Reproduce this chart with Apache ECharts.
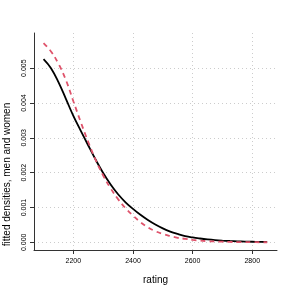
<!DOCTYPE html>
<html><head><meta charset="utf-8">
<script src="https://cdn.jsdelivr.net/npm/echarts@6/dist/echarts.min.js"></script>
<style>html,body{margin:0;padding:0;background:#fff}#c{width:294px;height:294px}</style>
</head><body><div id="c"></div>
<script>
const ratings = [2100,2125,2150,2175,2200,2225,2250,2275,2300,2325,2350,2375,2400,2425,2450,2475,2500,2525,2550,2575,2600,2625,2650,2675,2700,2725,2750,2775,2800,2825,2850];
const men = [0.00526,0.00500,0.00460,0.00412,0.00363,0.00320,0.00278,0.00237,0.00199,0.00166,0.00138,0.00115,0.00096,0.00079,0.00064,0.00051,0.00040,0.00031,0.00024,0.00018,0.00014,0.00011,0.000085,0.000065,0.00005,0.000038,0.000029,0.000022,0.000017,0.000013,0.00001];
const women = [0.00572,0.00548,0.00513,0.00466,0.00405,0.00345,0.00288,0.00236,0.00192,0.00155,0.00124,0.00098,0.00077,0.00058,0.00043,0.00032,0.00024,0.00018,0.00013,0.00010,0.00007,0.00005,0.000035,0.000025,0.000018,0.000012,0.000008,0.000005,0.000004,0.000003,0.000002];
const xTicks = [2200,2400,2600,2800];
const yTicks = [0,0.001,0.002,0.003,0.004,0.005];
const yTickLabels = ['0.000','0.001','0.002','0.003','0.004','0.005'];

const chart = echarts.init(document.getElementById('c'), null, {renderer:'canvas'});
const font = 'Liberation Sans, Arial, sans-serif';
chart.setOption({
  animation:false,
  grid:{left:34,right:17,top:33,bottom:44,containLabel:false,outerBoundsMode:'none'},
  xAxis:{type:'value',min:2068,max:2883,
    name:'rating',nameLocation:'middle',nameGap:25,
    nameTextStyle:{fontFamily:font,fontSize:10,color:'#000'},
    axisLine:{show:true,onZero:false,lineStyle:{color:'#333',width:1}},
    axisTick:{show:true,length:4,customValues:xTicks,lineStyle:{color:'#333'}},
    axisLabel:{customValues:xTicks,fontFamily:font,fontSize:7,color:'#000',margin:8,
      formatter:function(v){return String(v);}},
    splitLine:{show:true,lineStyle:{color:'#cccccc',type:[1,3],width:1}}
  },
  yAxis:{type:'value',min:-0.00022,max:0.00601,
    name:'fitted densities, men and women',nameLocation:'middle',nameGap:22,
    nameTextStyle:{fontFamily:font,fontSize:10,color:'#000',padding:[0,66,0,0]},
    axisLine:{show:true,onZero:false,lineStyle:{color:'#333',width:1}},
    axisTick:{show:true,length:4,customValues:yTicks,lineStyle:{color:'#333'}},
    axisLabel:{customValues:yTicks,rotate:90,fontFamily:font,fontSize:7,color:'#000',margin:6,
      formatter:function(v){const i=yTicks.findIndex(t=>Math.abs(t-v)<1e-9);return i>=0?yTickLabels[i]:'';}},
    splitLine:{show:true,lineStyle:{color:'#cccccc',type:[1,3],width:1}}
  },
  series:[
    {type:'line',data:ratings.map((r,i)=>[r,men[i]]),smooth:0.4,showSymbol:false,
     lineStyle:{color:'#000000',width:1.8,type:'solid'}},
    {type:'line',data:ratings.map((r,i)=>[r,women[i]]),smooth:0.4,showSymbol:false,
     lineStyle:{color:'#df536b',width:1.8,type:[5,4]}}
  ]
});
</script></body></html>
